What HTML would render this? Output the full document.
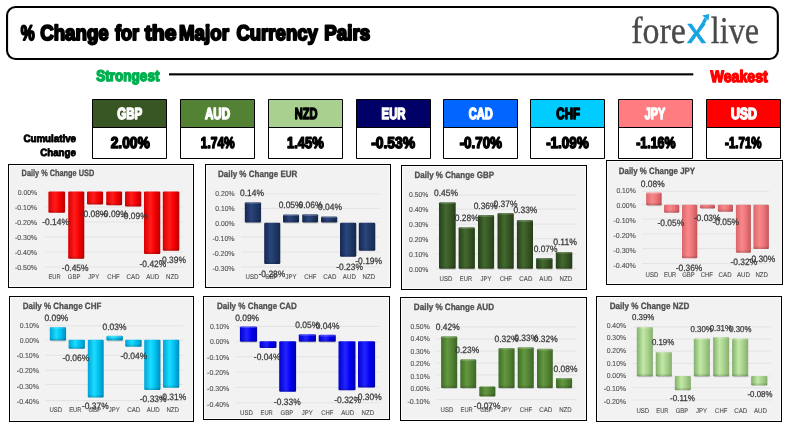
<!DOCTYPE html>
<html lang="en">
<head>
<meta charset="utf-8">
<title>% Change for the Major Currency Pairs</title>
<style>
html,body{margin:0;padding:0;background:#ffffff;}
body{width:787px;height:431px;overflow:hidden;}
svg{display:block;font-family:"Liberation Sans", "DejaVu Sans", sans-serif;}
svg text{white-space:pre;text-rendering:geometricPrecision;}
svg .sf{font-family:"Liberation Serif", "DejaVu Serif", serif;}
svg .lx{font-family:"Liberation Sans", "DejaVu Sans", sans-serif;}
</style>
</head>
<body>
<svg width="787" height="431" viewBox="0 0 787 431" role="img" aria-label="% Change for the Major Currency Pairs">
<defs>
<linearGradient id="shade" x1="0" y1="0" x2="0" y2="1"><stop offset="0" stop-color="#000000" stop-opacity="0"/><stop offset="1" stop-color="#000000" stop-opacity="0.2"/></linearGradient>
<linearGradient id="gred" x1="0" y1="0" x2="1" y2="0"><stop offset="0" stop-color="#d80000"/><stop offset="0.4" stop-color="#ff1c1c"/><stop offset="0.68" stop-color="#f40000"/><stop offset="1" stop-color="#b80000"/></linearGradient>
<linearGradient id="gnavy" x1="0" y1="0" x2="1" y2="0"><stop offset="0" stop-color="#14274e"/><stop offset="0.4" stop-color="#2b457f"/><stop offset="0.68" stop-color="#1f3864"/><stop offset="1" stop-color="#142850"/></linearGradient>
<linearGradient id="gdgreen" x1="0" y1="0" x2="1" y2="0"><stop offset="0" stop-color="#24401a"/><stop offset="0.4" stop-color="#44692f"/><stop offset="0.68" stop-color="#375623"/><stop offset="1" stop-color="#243d18"/></linearGradient>
<linearGradient id="gpink" x1="0" y1="0" x2="1" y2="0"><stop offset="0" stop-color="#dc666a"/><stop offset="0.4" stop-color="#f8888c"/><stop offset="0.68" stop-color="#ec7478"/><stop offset="1" stop-color="#c4565a"/></linearGradient>
<linearGradient id="gcyan" x1="0" y1="0" x2="1" y2="0"><stop offset="0" stop-color="#00a2d8"/><stop offset="0.4" stop-color="#1cdcff"/><stop offset="0.68" stop-color="#00c0f0"/><stop offset="1" stop-color="#008cbc"/></linearGradient>
<linearGradient id="gblue" x1="0" y1="0" x2="1" y2="0"><stop offset="0" stop-color="#0000d0"/><stop offset="0.4" stop-color="#2424ff"/><stop offset="0.68" stop-color="#0000f4"/><stop offset="1" stop-color="#0000ac"/></linearGradient>
<linearGradient id="ggreen" x1="0" y1="0" x2="1" y2="0"><stop offset="0" stop-color="#3e6e28"/><stop offset="0.4" stop-color="#64983f"/><stop offset="0.68" stop-color="#548235"/><stop offset="1" stop-color="#3a6624"/></linearGradient>
<linearGradient id="glgreen" x1="0" y1="0" x2="1" y2="0"><stop offset="0" stop-color="#84ae6c"/><stop offset="0.4" stop-color="#c0eaa4"/><stop offset="0.68" stop-color="#a9d08e"/><stop offset="1" stop-color="#86ae6e"/></linearGradient>
</defs>
<rect x="0" y="0" width="787" height="431" fill="#ffffff"/>
<rect x="7.05" y="7" width="770.8" height="52" rx="8.5" ry="8.5" fill="#ffffff" stroke="#000000" stroke-width="2.1"/>
<text font-size="21.01" fill="#000000" font-weight="bold" text-rendering="geometricPrecision" stroke="#000000" stroke-width="2.0" stroke-linejoin="round"><tspan x="20.72" y="40.00" textLength="13.89" lengthAdjust="spacingAndGlyphs">%</tspan> <tspan x="40.17" y="40.00" textLength="68.60" lengthAdjust="spacingAndGlyphs">Change</tspan> <tspan x="114.95" y="40.00" textLength="24.08" lengthAdjust="spacingAndGlyphs">for</tspan> <tspan x="144.85" y="40.00" textLength="31.66" lengthAdjust="spacingAndGlyphs">the</tspan> <tspan x="179.05" y="40.00" textLength="49.88" lengthAdjust="spacingAndGlyphs">Major</tspan> <tspan x="236.39" y="40.00" textLength="81.50" lengthAdjust="spacingAndGlyphs">Currency</tspan> <tspan x="324.31" y="40.00" textLength="45.81" lengthAdjust="spacingAndGlyphs">Pairs</tspan></text>
<text class="sf" font-size="37.8" fill="#4a4a4a" stroke="#4a4a4a" stroke-width="0.35" stroke-linejoin="round"><tspan x="631.30" y="42.60" textLength="54.60" lengthAdjust="spacingAndGlyphs">fore</tspan><tspan class="lx" x="687.10" y="43.00" font-size="35.97" fill="#18a4e0" stroke="#18a4e0" stroke-width="0.7" textLength="18.99" lengthAdjust="spacingAndGlyphs">x</tspan><tspan x="710.80" y="42.60" textLength="48.30" lengthAdjust="spacingAndGlyphs">live</tspan></text>
<g fill="#18a4e0"><path d="M700.6 25.0 L703.4 26.8 L707.0 19.8 L704.3 17.6 Z"/><path d="M709.2 13.9 L702.2 15.4 L708.5 20.4 Z"/></g>
<text x="96.26" y="81.00" font-size="15.48" fill="#00b050" font-weight="bold" textLength="63.17" lengthAdjust="spacingAndGlyphs" stroke="#00b050" stroke-width="1.5" stroke-linejoin="round" text-rendering="geometricPrecision">Strongest</text>
<text x="710.51" y="82.00" font-size="16.44" fill="#ff0000" font-weight="bold" textLength="57.28" lengthAdjust="spacingAndGlyphs" stroke="#ff0000" stroke-width="1.5" stroke-linejoin="round" text-rendering="geometricPrecision">Weakest</text>
<rect x="169" y="73.3" width="524.3" height="2.1" fill="#000000"/>
<text font-size="10.51" fill="#000000" font-weight="bold" text-rendering="geometricPrecision" stroke="#000000" stroke-width="0.9" stroke-linejoin="round"><tspan x="23.44" y="142.00" textLength="52.61" lengthAdjust="spacingAndGlyphs">Cumulative</tspan> <tspan x="40.24" y="156.00" textLength="35.57" lengthAdjust="spacingAndGlyphs">Change</tspan></text>
<rect x="92.5" y="99.5" width="74" height="28" fill="#375623"/>
<rect x="92.5" y="127.5" width="74" height="31" fill="#ffffff"/>
<path d="M92.5 99.5 h74 v59 h-74 Z M92.5 127.5 h74" fill="none" stroke="#000000" stroke-width="1"/>
<text x="117.28" y="119.00" font-size="15.96" fill="#ffffff" font-weight="bold" textLength="25.03" lengthAdjust="spacingAndGlyphs" stroke="#ffffff" stroke-width="1.5" stroke-linejoin="round" text-rendering="geometricPrecision">GBP</text>
<text x="110.66" y="148.00" font-size="15.67" fill="#000000" font-weight="bold" textLength="39.19" lengthAdjust="spacingAndGlyphs" stroke="#000000" stroke-width="1.5" stroke-linejoin="round" text-rendering="geometricPrecision">2.00%</text>
<rect x="180.5" y="99.5" width="74" height="28" fill="#548235"/>
<rect x="180.5" y="127.5" width="74" height="31" fill="#ffffff"/>
<path d="M180.5 99.5 h74 v59 h-74 Z M180.5 127.5 h74" fill="none" stroke="#000000" stroke-width="1"/>
<text x="204.90" y="119.00" font-size="15.96" fill="#ffffff" font-weight="bold" textLength="25.11" lengthAdjust="spacingAndGlyphs" stroke="#ffffff" stroke-width="1.5" stroke-linejoin="round" text-rendering="geometricPrecision">AUD</text>
<text x="200.83" y="148.00" font-size="15.67" fill="#000000" font-weight="bold" textLength="33.85" lengthAdjust="spacingAndGlyphs" stroke="#000000" stroke-width="1.5" stroke-linejoin="round" text-rendering="geometricPrecision">1.74%</text>
<rect x="268.5" y="99.5" width="74" height="28" fill="#a9d08e"/>
<rect x="268.5" y="127.5" width="74" height="31" fill="#ffffff"/>
<path d="M268.5 99.5 h74 v59 h-74 Z M268.5 127.5 h74" fill="none" stroke="#000000" stroke-width="1"/>
<text x="294.68" y="119.00" font-size="15.96" fill="#000000" font-weight="bold" textLength="22.93" lengthAdjust="spacingAndGlyphs" stroke="#000000" stroke-width="1.5" stroke-linejoin="round" text-rendering="geometricPrecision">NZD</text>
<text x="287.03" y="148.00" font-size="15.67" fill="#000000" font-weight="bold" textLength="36.73" lengthAdjust="spacingAndGlyphs" stroke="#000000" stroke-width="1.5" stroke-linejoin="round" text-rendering="geometricPrecision">1.45%</text>
<rect x="356.5" y="99.5" width="74" height="28" fill="#000066"/>
<rect x="356.5" y="127.5" width="74" height="31" fill="#ffffff"/>
<path d="M356.5 99.5 h74 v59 h-74 Z M356.5 127.5 h74" fill="none" stroke="#000000" stroke-width="1"/>
<text x="381.55" y="119.00" font-size="15.96" fill="#ffffff" font-weight="bold" textLength="24.02" lengthAdjust="spacingAndGlyphs" stroke="#ffffff" stroke-width="1.5" stroke-linejoin="round" text-rendering="geometricPrecision">EUR</text>
<text x="371.19" y="148.00" font-size="15.67" fill="#000000" font-weight="bold" textLength="43.93" lengthAdjust="spacingAndGlyphs" stroke="#000000" stroke-width="1.5" stroke-linejoin="round" text-rendering="geometricPrecision">-0.53%</text>
<rect x="443.5" y="99.5" width="74" height="28" fill="#0066ff"/>
<rect x="443.5" y="127.5" width="74" height="31" fill="#ffffff"/>
<path d="M443.5 99.5 h74 v59 h-74 Z M443.5 127.5 h74" fill="none" stroke="#000000" stroke-width="1"/>
<text x="468.79" y="119.00" font-size="15.96" fill="#ffffff" font-weight="bold" textLength="24.12" lengthAdjust="spacingAndGlyphs" stroke="#ffffff" stroke-width="1.5" stroke-linejoin="round" text-rendering="geometricPrecision">CAD</text>
<text x="459.63" y="148.00" font-size="15.67" fill="#000000" font-weight="bold" textLength="42.39" lengthAdjust="spacingAndGlyphs" stroke="#000000" stroke-width="1.5" stroke-linejoin="round" text-rendering="geometricPrecision">-0.70%</text>
<rect x="530.5" y="99.5" width="74" height="28" fill="#00ccff"/>
<rect x="530.5" y="127.5" width="74" height="31" fill="#ffffff"/>
<path d="M530.5 99.5 h74 v59 h-74 Z M530.5 127.5 h74" fill="none" stroke="#000000" stroke-width="1"/>
<text x="556.29" y="119.00" font-size="15.96" fill="#000000" font-weight="bold" textLength="23.80" lengthAdjust="spacingAndGlyphs" stroke="#000000" stroke-width="1.5" stroke-linejoin="round" text-rendering="geometricPrecision">CHF</text>
<text x="546.14" y="148.00" font-size="15.67" fill="#000000" font-weight="bold" textLength="42.64" lengthAdjust="spacingAndGlyphs" stroke="#000000" stroke-width="1.5" stroke-linejoin="round" text-rendering="geometricPrecision">-1.09%</text>
<rect x="618.5" y="99.5" width="74" height="28" fill="#ff7c80"/>
<rect x="618.5" y="127.5" width="74" height="31" fill="#ffffff"/>
<path d="M618.5 99.5 h74 v59 h-74 Z M618.5 127.5 h74" fill="none" stroke="#000000" stroke-width="1"/>
<text x="644.72" y="119.00" font-size="15.96" fill="#ffffff" font-weight="bold" textLength="20.37" lengthAdjust="spacingAndGlyphs" stroke="#ffffff" stroke-width="1.5" stroke-linejoin="round" text-rendering="geometricPrecision">JPY</text>
<text x="636.20" y="148.00" font-size="15.67" fill="#000000" font-weight="bold" textLength="39.30" lengthAdjust="spacingAndGlyphs" stroke="#000000" stroke-width="1.5" stroke-linejoin="round" text-rendering="geometricPrecision">-1.16%</text>
<rect x="706.5" y="99.5" width="74" height="28" fill="#ff0000"/>
<rect x="706.5" y="127.5" width="74" height="31" fill="#ffffff"/>
<path d="M706.5 99.5 h74 v59 h-74 Z M706.5 127.5 h74" fill="none" stroke="#000000" stroke-width="1"/>
<text x="730.93" y="119.00" font-size="15.96" fill="#ffffff" font-weight="bold" textLength="26.12" lengthAdjust="spacingAndGlyphs" stroke="#ffffff" stroke-width="1.5" stroke-linejoin="round" text-rendering="geometricPrecision">USD</text>
<text x="725.06" y="148.00" font-size="15.67" fill="#000000" font-weight="bold" textLength="36.48" lengthAdjust="spacingAndGlyphs" stroke="#000000" stroke-width="1.5" stroke-linejoin="round" text-rendering="geometricPrecision">-1.71%</text>
<rect x="8.5" y="164.5" width="185.0" height="123.0" fill="#f2f2f2" stroke="#000000" stroke-width="1"/>
<rect x="9.5" y="165.5" width="183.0" height="121.0" fill="none" stroke="#fbfbfb" stroke-width="1"/>
<text x="21.60" y="176.30" font-size="9.2" fill="#505050" font-weight="bold" textLength="72.60" lengthAdjust="spacingAndGlyphs" stroke="#505050" stroke-width="0.3" stroke-linejoin="round">Daily % Change USD</text>
<rect x="45.5" y="191.50" width="137.5" height="1" fill="#e3e3e3"/>
<rect x="45.5" y="206.50" width="137.5" height="1" fill="#e3e3e3"/>
<rect x="45.5" y="221.50" width="137.5" height="1" fill="#e3e3e3"/>
<rect x="45.5" y="236.50" width="137.5" height="1" fill="#e3e3e3"/>
<rect x="45.5" y="251.50" width="137.5" height="1" fill="#e3e3e3"/>
<rect x="45.5" y="266.50" width="137.5" height="1" fill="#e3e3e3"/>
<text x="37.10" y="194.90" font-size="7.2" fill="#545454" text-anchor="end" textLength="19.30" lengthAdjust="spacingAndGlyphs" stroke="#545454" stroke-width="0.12" stroke-linejoin="round">0.00%</text>
<text x="37.10" y="209.84" font-size="7.2" fill="#545454" text-anchor="end" textLength="22.20" lengthAdjust="spacingAndGlyphs" stroke="#545454" stroke-width="0.12" stroke-linejoin="round">-0.10%</text>
<text x="37.10" y="224.78" font-size="7.2" fill="#545454" text-anchor="end" textLength="22.20" lengthAdjust="spacingAndGlyphs" stroke="#545454" stroke-width="0.12" stroke-linejoin="round">-0.20%</text>
<text x="37.10" y="239.72" font-size="7.2" fill="#545454" text-anchor="end" textLength="22.20" lengthAdjust="spacingAndGlyphs" stroke="#545454" stroke-width="0.12" stroke-linejoin="round">-0.30%</text>
<text x="37.10" y="254.66" font-size="7.2" fill="#545454" text-anchor="end" textLength="22.20" lengthAdjust="spacingAndGlyphs" stroke="#545454" stroke-width="0.12" stroke-linejoin="round">-0.40%</text>
<text x="37.10" y="269.60" font-size="7.2" fill="#545454" text-anchor="end" textLength="22.20" lengthAdjust="spacingAndGlyphs" stroke="#545454" stroke-width="0.12" stroke-linejoin="round">-0.50%</text>
<text x="54.50" y="279.20" font-size="6.8" fill="#505050" text-anchor="middle" textLength="12.20" lengthAdjust="spacingAndGlyphs" stroke="#505050" stroke-width="0.12" stroke-linejoin="round">EUR</text>
<text x="74.15" y="279.20" font-size="6.8" fill="#505050" text-anchor="middle" textLength="12.60" lengthAdjust="spacingAndGlyphs" stroke="#505050" stroke-width="0.12" stroke-linejoin="round">GBP</text>
<text x="93.80" y="279.20" font-size="6.8" fill="#505050" text-anchor="middle" textLength="11.00" lengthAdjust="spacingAndGlyphs" stroke="#505050" stroke-width="0.12" stroke-linejoin="round">JPY</text>
<text x="113.45" y="279.20" font-size="6.8" fill="#505050" text-anchor="middle" textLength="12.20" lengthAdjust="spacingAndGlyphs" stroke="#505050" stroke-width="0.12" stroke-linejoin="round">CHF</text>
<text x="133.10" y="279.20" font-size="6.8" fill="#505050" text-anchor="middle" textLength="13.00" lengthAdjust="spacingAndGlyphs" stroke="#505050" stroke-width="0.12" stroke-linejoin="round">CAD</text>
<text x="152.75" y="279.20" font-size="6.8" fill="#505050" text-anchor="middle" textLength="13.00" lengthAdjust="spacingAndGlyphs" stroke="#505050" stroke-width="0.12" stroke-linejoin="round">AUD</text>
<text x="172.40" y="279.20" font-size="6.8" fill="#505050" text-anchor="middle" textLength="12.60" lengthAdjust="spacingAndGlyphs" stroke="#505050" stroke-width="0.12" stroke-linejoin="round">NZD</text>
<rect x="48.40" y="191.50" width="16.70" height="21.30" rx="1.4" ry="1" fill="url(#gred)"/>
<rect x="48.40" y="209.80" width="16.70" height="3.00" rx="1.4" ry="1" fill="url(#shade)"/>
<rect x="68.20" y="191.50" width="16.10" height="67.30" rx="1.4" ry="1" fill="url(#gred)"/>
<rect x="68.20" y="255.80" width="16.10" height="3.00" rx="1.4" ry="1" fill="url(#shade)"/>
<rect x="87.00" y="191.50" width="16.10" height="13.00" rx="1.4" ry="1" fill="url(#gred)"/>
<rect x="87.00" y="201.50" width="16.10" height="3.00" rx="1.4" ry="1" fill="url(#shade)"/>
<rect x="106.20" y="191.50" width="15.90" height="13.80" rx="1.4" ry="1" fill="url(#gred)"/>
<rect x="106.20" y="202.30" width="15.90" height="3.00" rx="1.4" ry="1" fill="url(#shade)"/>
<rect x="125.00" y="191.50" width="16.30" height="14.90" rx="1.4" ry="1" fill="url(#gred)"/>
<rect x="125.00" y="203.40" width="16.30" height="3.00" rx="1.4" ry="1" fill="url(#shade)"/>
<rect x="144.00" y="191.50" width="16.30" height="62.50" rx="1.4" ry="1" fill="url(#gred)"/>
<rect x="144.00" y="251.00" width="16.30" height="3.00" rx="1.4" ry="1" fill="url(#shade)"/>
<rect x="162.80" y="191.50" width="16.50" height="59.30" rx="1.4" ry="1" fill="url(#gred)"/>
<rect x="162.80" y="247.80" width="16.50" height="3.00" rx="1.4" ry="1" fill="url(#shade)"/>
<text x="55.55" y="225.00" font-size="9.2" fill="#383838" text-anchor="middle" textLength="26.70" lengthAdjust="spacingAndGlyphs" stroke="#383838" stroke-width="0.25" stroke-linejoin="round">-0.14%</text>
<text x="75.20" y="271.00" font-size="9.2" fill="#383838" text-anchor="middle" textLength="26.70" lengthAdjust="spacingAndGlyphs" stroke="#383838" stroke-width="0.25" stroke-linejoin="round">-0.45%</text>
<text x="94.00" y="217.30" font-size="9.2" fill="#383838" text-anchor="middle" textLength="26.70" lengthAdjust="spacingAndGlyphs" stroke="#383838" stroke-width="0.25" stroke-linejoin="round">-0.08%</text>
<text x="114.40" y="217.30" font-size="9.2" fill="#383838" text-anchor="middle" textLength="26.70" lengthAdjust="spacingAndGlyphs" stroke="#383838" stroke-width="0.25" stroke-linejoin="round">-0.09%</text>
<text x="134.30" y="218.80" font-size="9.2" fill="#383838" text-anchor="middle" textLength="26.70" lengthAdjust="spacingAndGlyphs" stroke="#383838" stroke-width="0.25" stroke-linejoin="round">-0.09%</text>
<text x="152.90" y="266.80" font-size="9.2" fill="#383838" text-anchor="middle" textLength="26.70" lengthAdjust="spacingAndGlyphs" stroke="#383838" stroke-width="0.25" stroke-linejoin="round">-0.42%</text>
<text x="172.55" y="262.60" font-size="9.2" fill="#383838" text-anchor="middle" textLength="26.70" lengthAdjust="spacingAndGlyphs" stroke="#383838" stroke-width="0.25" stroke-linejoin="round">-0.39%</text>
<rect x="205.5" y="164.5" width="185.0" height="123.0" fill="#f2f2f2" stroke="#000000" stroke-width="1"/>
<rect x="206.5" y="165.5" width="183.0" height="121.0" fill="none" stroke="#fbfbfb" stroke-width="1"/>
<text x="217.90" y="176.80" font-size="9.2" fill="#505050" font-weight="bold" textLength="79.50" lengthAdjust="spacingAndGlyphs" stroke="#505050" stroke-width="0.3" stroke-linejoin="round">Daily % Change EUR</text>
<rect x="241.5" y="193.50" width="137.5" height="1" fill="#e3e3e3"/>
<rect x="241.5" y="207.90" width="137.5" height="1" fill="#e3e3e3"/>
<rect x="241.5" y="221.70" width="137.5" height="1" fill="#e3e3e3"/>
<rect x="241.5" y="236.40" width="137.5" height="1" fill="#e3e3e3"/>
<rect x="241.5" y="251.40" width="137.5" height="1" fill="#e3e3e3"/>
<rect x="241.5" y="266.40" width="137.5" height="1" fill="#e3e3e3"/>
<text x="234.60" y="195.80" font-size="7.2" fill="#545454" text-anchor="end" textLength="19.30" lengthAdjust="spacingAndGlyphs" stroke="#545454" stroke-width="0.12" stroke-linejoin="round">0.20%</text>
<text x="234.60" y="210.74" font-size="7.2" fill="#545454" text-anchor="end" textLength="19.30" lengthAdjust="spacingAndGlyphs" stroke="#545454" stroke-width="0.12" stroke-linejoin="round">0.10%</text>
<text x="234.60" y="225.68" font-size="7.2" fill="#545454" text-anchor="end" textLength="19.30" lengthAdjust="spacingAndGlyphs" stroke="#545454" stroke-width="0.12" stroke-linejoin="round">0.00%</text>
<text x="234.60" y="240.62" font-size="7.2" fill="#545454" text-anchor="end" textLength="22.20" lengthAdjust="spacingAndGlyphs" stroke="#545454" stroke-width="0.12" stroke-linejoin="round">-0.10%</text>
<text x="234.60" y="255.56" font-size="7.2" fill="#545454" text-anchor="end" textLength="22.20" lengthAdjust="spacingAndGlyphs" stroke="#545454" stroke-width="0.12" stroke-linejoin="round">-0.20%</text>
<text x="234.60" y="270.50" font-size="7.2" fill="#545454" text-anchor="end" textLength="22.20" lengthAdjust="spacingAndGlyphs" stroke="#545454" stroke-width="0.12" stroke-linejoin="round">-0.30%</text>
<text x="252.00" y="279.20" font-size="6.8" fill="#505050" text-anchor="middle" textLength="12.80" lengthAdjust="spacingAndGlyphs" stroke="#505050" stroke-width="0.12" stroke-linejoin="round">USD</text>
<text x="271.47" y="279.20" font-size="6.8" fill="#505050" text-anchor="middle" textLength="12.60" lengthAdjust="spacingAndGlyphs" stroke="#505050" stroke-width="0.12" stroke-linejoin="round">GBP</text>
<text x="290.93" y="279.20" font-size="6.8" fill="#505050" text-anchor="middle" textLength="11.00" lengthAdjust="spacingAndGlyphs" stroke="#505050" stroke-width="0.12" stroke-linejoin="round">JPY</text>
<text x="310.40" y="279.20" font-size="6.8" fill="#505050" text-anchor="middle" textLength="12.20" lengthAdjust="spacingAndGlyphs" stroke="#505050" stroke-width="0.12" stroke-linejoin="round">CHF</text>
<text x="329.87" y="279.20" font-size="6.8" fill="#505050" text-anchor="middle" textLength="13.00" lengthAdjust="spacingAndGlyphs" stroke="#505050" stroke-width="0.12" stroke-linejoin="round">CAD</text>
<text x="349.33" y="279.20" font-size="6.8" fill="#505050" text-anchor="middle" textLength="13.00" lengthAdjust="spacingAndGlyphs" stroke="#505050" stroke-width="0.12" stroke-linejoin="round">AUD</text>
<text x="368.80" y="279.20" font-size="6.8" fill="#505050" text-anchor="middle" textLength="12.60" lengthAdjust="spacingAndGlyphs" stroke="#505050" stroke-width="0.12" stroke-linejoin="round">NZD</text>
<rect x="244.80" y="202.20" width="16.30" height="20.30" rx="1.4" ry="1" fill="url(#gnavy)"/>
<rect x="244.80" y="219.50" width="16.30" height="3.00" rx="1.4" ry="1" fill="url(#shade)"/>
<rect x="245.10" y="202.20" width="15.70" height="1.6" rx="1.4" ry="0.8" fill="#ffffff" fill-opacity="0.22"/>
<rect x="245.40" y="222.30" width="16.10" height="1.2" rx="1.4" ry="0.6" fill="#808080" fill-opacity="0.35"/>
<rect x="264.20" y="222.70" width="16.10" height="41.30" rx="1.4" ry="1" fill="url(#gnavy)"/>
<rect x="264.20" y="261.00" width="16.10" height="3.00" rx="1.4" ry="1" fill="url(#shade)"/>
<rect x="283.00" y="214.50" width="16.10" height="8.00" rx="1.4" ry="1" fill="url(#gnavy)"/>
<rect x="283.00" y="219.50" width="16.10" height="3.00" rx="1.4" ry="1" fill="url(#shade)"/>
<rect x="283.30" y="214.50" width="15.50" height="1.6" rx="1.4" ry="0.8" fill="#ffffff" fill-opacity="0.22"/>
<rect x="283.60" y="222.30" width="15.90" height="1.2" rx="1.4" ry="0.6" fill="#808080" fill-opacity="0.35"/>
<rect x="302.20" y="214.30" width="15.90" height="8.20" rx="1.4" ry="1" fill="url(#gnavy)"/>
<rect x="302.20" y="219.50" width="15.90" height="3.00" rx="1.4" ry="1" fill="url(#shade)"/>
<rect x="302.50" y="214.30" width="15.30" height="1.6" rx="1.4" ry="0.8" fill="#ffffff" fill-opacity="0.22"/>
<rect x="302.80" y="222.30" width="15.70" height="1.2" rx="1.4" ry="0.6" fill="#808080" fill-opacity="0.35"/>
<rect x="321.00" y="216.40" width="16.30" height="6.10" rx="1.4" ry="1" fill="url(#gnavy)"/>
<rect x="321.00" y="219.50" width="16.30" height="3.00" rx="1.4" ry="1" fill="url(#shade)"/>
<rect x="321.30" y="216.40" width="15.70" height="1.6" rx="1.4" ry="0.8" fill="#ffffff" fill-opacity="0.22"/>
<rect x="321.60" y="222.30" width="16.10" height="1.2" rx="1.4" ry="0.6" fill="#808080" fill-opacity="0.35"/>
<rect x="340.00" y="222.70" width="16.30" height="34.00" rx="1.4" ry="1" fill="url(#gnavy)"/>
<rect x="340.00" y="253.70" width="16.30" height="3.00" rx="1.4" ry="1" fill="url(#shade)"/>
<rect x="358.80" y="222.70" width="16.50" height="28.10" rx="1.4" ry="1" fill="url(#gnavy)"/>
<rect x="358.80" y="247.80" width="16.50" height="3.00" rx="1.4" ry="1" fill="url(#shade)"/>
<text x="252.00" y="196.20" font-size="9.2" fill="#383838" text-anchor="middle" textLength="23.90" lengthAdjust="spacingAndGlyphs" stroke="#383838" stroke-width="0.25" stroke-linejoin="round">0.14%</text>
<text x="271.90" y="276.80" font-size="9.2" fill="#383838" text-anchor="middle" textLength="26.70" lengthAdjust="spacingAndGlyphs" stroke="#383838" stroke-width="0.25" stroke-linejoin="round">-0.28%</text>
<text x="290.60" y="207.90" font-size="9.2" fill="#383838" text-anchor="middle" textLength="23.90" lengthAdjust="spacingAndGlyphs" stroke="#383838" stroke-width="0.25" stroke-linejoin="round">0.05%</text>
<text x="310.50" y="207.90" font-size="9.2" fill="#383838" text-anchor="middle" textLength="23.90" lengthAdjust="spacingAndGlyphs" stroke="#383838" stroke-width="0.25" stroke-linejoin="round">0.06%</text>
<text x="330.00" y="210.00" font-size="9.2" fill="#383838" text-anchor="middle" textLength="23.90" lengthAdjust="spacingAndGlyphs" stroke="#383838" stroke-width="0.25" stroke-linejoin="round">0.04%</text>
<text x="349.55" y="269.90" font-size="9.2" fill="#383838" text-anchor="middle" textLength="26.70" lengthAdjust="spacingAndGlyphs" stroke="#383838" stroke-width="0.25" stroke-linejoin="round">-0.23%</text>
<text x="368.65" y="263.70" font-size="9.2" fill="#383838" text-anchor="middle" textLength="26.70" lengthAdjust="spacingAndGlyphs" stroke="#383838" stroke-width="0.25" stroke-linejoin="round">-0.19%</text>
<rect x="401.5" y="165.5" width="185.0" height="124.0" fill="#f2f2f2" stroke="#000000" stroke-width="1"/>
<rect x="402.5" y="166.5" width="183.0" height="122.0" fill="none" stroke="#fbfbfb" stroke-width="1"/>
<text x="414.50" y="178.10" font-size="9.2" fill="#505050" font-weight="bold" textLength="79.50" lengthAdjust="spacingAndGlyphs" stroke="#505050" stroke-width="0.3" stroke-linejoin="round">Daily % Change GBP</text>
<rect x="436.0" y="194.40" width="141.0" height="1" fill="#e3e3e3"/>
<rect x="436.0" y="208.60" width="141.0" height="1" fill="#e3e3e3"/>
<rect x="436.0" y="223.60" width="141.0" height="1" fill="#e3e3e3"/>
<rect x="436.0" y="238.20" width="141.0" height="1" fill="#e3e3e3"/>
<rect x="436.0" y="253.50" width="141.0" height="1" fill="#e3e3e3"/>
<rect x="436.0" y="268.30" width="141.0" height="1" fill="#e3e3e3"/>
<text x="428.40" y="197.10" font-size="7.2" fill="#545454" text-anchor="end" textLength="19.30" lengthAdjust="spacingAndGlyphs" stroke="#545454" stroke-width="0.12" stroke-linejoin="round">0.50%</text>
<text x="428.40" y="212.04" font-size="7.2" fill="#545454" text-anchor="end" textLength="19.30" lengthAdjust="spacingAndGlyphs" stroke="#545454" stroke-width="0.12" stroke-linejoin="round">0.40%</text>
<text x="428.40" y="226.98" font-size="7.2" fill="#545454" text-anchor="end" textLength="19.30" lengthAdjust="spacingAndGlyphs" stroke="#545454" stroke-width="0.12" stroke-linejoin="round">0.30%</text>
<text x="428.40" y="241.92" font-size="7.2" fill="#545454" text-anchor="end" textLength="19.30" lengthAdjust="spacingAndGlyphs" stroke="#545454" stroke-width="0.12" stroke-linejoin="round">0.20%</text>
<text x="428.40" y="256.86" font-size="7.2" fill="#545454" text-anchor="end" textLength="19.30" lengthAdjust="spacingAndGlyphs" stroke="#545454" stroke-width="0.12" stroke-linejoin="round">0.10%</text>
<text x="428.40" y="271.80" font-size="7.2" fill="#545454" text-anchor="end" textLength="19.30" lengthAdjust="spacingAndGlyphs" stroke="#545454" stroke-width="0.12" stroke-linejoin="round">0.00%</text>
<text x="446.00" y="281.10" font-size="6.8" fill="#505050" text-anchor="middle" textLength="12.80" lengthAdjust="spacingAndGlyphs" stroke="#505050" stroke-width="0.12" stroke-linejoin="round">USD</text>
<text x="465.97" y="281.10" font-size="6.8" fill="#505050" text-anchor="middle" textLength="12.20" lengthAdjust="spacingAndGlyphs" stroke="#505050" stroke-width="0.12" stroke-linejoin="round">EUR</text>
<text x="485.93" y="281.10" font-size="6.8" fill="#505050" text-anchor="middle" textLength="11.00" lengthAdjust="spacingAndGlyphs" stroke="#505050" stroke-width="0.12" stroke-linejoin="round">JPY</text>
<text x="505.90" y="281.10" font-size="6.8" fill="#505050" text-anchor="middle" textLength="12.20" lengthAdjust="spacingAndGlyphs" stroke="#505050" stroke-width="0.12" stroke-linejoin="round">CHF</text>
<text x="525.87" y="281.10" font-size="6.8" fill="#505050" text-anchor="middle" textLength="13.00" lengthAdjust="spacingAndGlyphs" stroke="#505050" stroke-width="0.12" stroke-linejoin="round">CAD</text>
<text x="545.83" y="281.10" font-size="6.8" fill="#505050" text-anchor="middle" textLength="13.00" lengthAdjust="spacingAndGlyphs" stroke="#505050" stroke-width="0.12" stroke-linejoin="round">AUD</text>
<text x="565.80" y="281.10" font-size="6.8" fill="#505050" text-anchor="middle" textLength="12.60" lengthAdjust="spacingAndGlyphs" stroke="#505050" stroke-width="0.12" stroke-linejoin="round">NZD</text>
<rect x="439.00" y="202.20" width="16.70" height="66.60" rx="1.4" ry="1" fill="url(#gdgreen)"/>
<rect x="439.00" y="265.80" width="16.70" height="3.00" rx="1.4" ry="1" fill="url(#shade)"/>
<rect x="439.30" y="202.20" width="16.10" height="1.6" rx="1.4" ry="0.8" fill="#ffffff" fill-opacity="0.22"/>
<rect x="439.60" y="268.60" width="16.50" height="1.2" rx="1.4" ry="0.6" fill="#808080" fill-opacity="0.35"/>
<rect x="458.60" y="227.20" width="16.30" height="41.60" rx="1.4" ry="1" fill="url(#gdgreen)"/>
<rect x="458.60" y="265.80" width="16.30" height="3.00" rx="1.4" ry="1" fill="url(#shade)"/>
<rect x="458.90" y="227.20" width="15.70" height="1.6" rx="1.4" ry="0.8" fill="#ffffff" fill-opacity="0.22"/>
<rect x="459.20" y="268.60" width="16.10" height="1.2" rx="1.4" ry="0.6" fill="#808080" fill-opacity="0.35"/>
<rect x="478.00" y="215.10" width="16.10" height="53.70" rx="1.4" ry="1" fill="url(#gdgreen)"/>
<rect x="478.00" y="265.80" width="16.10" height="3.00" rx="1.4" ry="1" fill="url(#shade)"/>
<rect x="478.30" y="215.10" width="15.50" height="1.6" rx="1.4" ry="0.8" fill="#ffffff" fill-opacity="0.22"/>
<rect x="478.60" y="268.60" width="15.90" height="1.2" rx="1.4" ry="0.6" fill="#808080" fill-opacity="0.35"/>
<rect x="497.50" y="213.00" width="16.30" height="55.80" rx="1.4" ry="1" fill="url(#gdgreen)"/>
<rect x="497.50" y="265.80" width="16.30" height="3.00" rx="1.4" ry="1" fill="url(#shade)"/>
<rect x="497.80" y="213.00" width="15.70" height="1.6" rx="1.4" ry="0.8" fill="#ffffff" fill-opacity="0.22"/>
<rect x="498.10" y="268.60" width="16.10" height="1.2" rx="1.4" ry="0.6" fill="#808080" fill-opacity="0.35"/>
<rect x="516.90" y="220.10" width="16.10" height="48.70" rx="1.4" ry="1" fill="url(#gdgreen)"/>
<rect x="516.90" y="265.80" width="16.10" height="3.00" rx="1.4" ry="1" fill="url(#shade)"/>
<rect x="517.20" y="220.10" width="15.50" height="1.6" rx="1.4" ry="0.8" fill="#ffffff" fill-opacity="0.22"/>
<rect x="517.50" y="268.60" width="15.90" height="1.2" rx="1.4" ry="0.6" fill="#808080" fill-opacity="0.35"/>
<rect x="536.10" y="258.00" width="16.50" height="10.80" rx="1.4" ry="1" fill="url(#gdgreen)"/>
<rect x="536.10" y="265.80" width="16.50" height="3.00" rx="1.4" ry="1" fill="url(#shade)"/>
<rect x="536.40" y="258.00" width="15.90" height="1.6" rx="1.4" ry="0.8" fill="#ffffff" fill-opacity="0.22"/>
<rect x="536.70" y="268.60" width="16.30" height="1.2" rx="1.4" ry="0.6" fill="#808080" fill-opacity="0.35"/>
<rect x="555.80" y="251.90" width="16.50" height="16.90" rx="1.4" ry="1" fill="url(#gdgreen)"/>
<rect x="555.80" y="265.80" width="16.50" height="3.00" rx="1.4" ry="1" fill="url(#shade)"/>
<rect x="556.10" y="251.90" width="15.90" height="1.6" rx="1.4" ry="0.8" fill="#ffffff" fill-opacity="0.22"/>
<rect x="556.40" y="268.60" width="16.30" height="1.2" rx="1.4" ry="0.6" fill="#808080" fill-opacity="0.35"/>
<text x="446.00" y="196.20" font-size="9.2" fill="#383838" text-anchor="middle" textLength="23.90" lengthAdjust="spacingAndGlyphs" stroke="#383838" stroke-width="0.25" stroke-linejoin="round">0.45%</text>
<text x="466.80" y="221.30" font-size="9.2" fill="#383838" text-anchor="middle" textLength="23.90" lengthAdjust="spacingAndGlyphs" stroke="#383838" stroke-width="0.25" stroke-linejoin="round">0.28%</text>
<text x="485.60" y="209.40" font-size="9.2" fill="#383838" text-anchor="middle" textLength="23.90" lengthAdjust="spacingAndGlyphs" stroke="#383838" stroke-width="0.25" stroke-linejoin="round">0.36%</text>
<text x="505.50" y="206.90" font-size="9.2" fill="#383838" text-anchor="middle" textLength="23.90" lengthAdjust="spacingAndGlyphs" stroke="#383838" stroke-width="0.25" stroke-linejoin="round">0.37%</text>
<text x="525.40" y="213.10" font-size="9.2" fill="#383838" text-anchor="middle" textLength="23.90" lengthAdjust="spacingAndGlyphs" stroke="#383838" stroke-width="0.25" stroke-linejoin="round">0.33%</text>
<text x="545.60" y="252.20" font-size="9.2" fill="#383838" text-anchor="middle" textLength="23.90" lengthAdjust="spacingAndGlyphs" stroke="#383838" stroke-width="0.25" stroke-linejoin="round">0.07%</text>
<text x="565.10" y="244.90" font-size="9.2" fill="#383838" text-anchor="middle" textLength="23.90" lengthAdjust="spacingAndGlyphs" stroke="#383838" stroke-width="0.25" stroke-linejoin="round">0.11%</text>
<rect x="606.5" y="160.5" width="176.0" height="124.0" fill="#f2f2f2" stroke="#000000" stroke-width="1"/>
<rect x="607.5" y="161.5" width="174.0" height="122.0" fill="none" stroke="#fbfbfb" stroke-width="1"/>
<text x="618.80" y="173.60" font-size="9.2" fill="#505050" font-weight="bold" textLength="76.30" lengthAdjust="spacingAndGlyphs" stroke="#505050" stroke-width="0.3" stroke-linejoin="round">Daily % Change JPY</text>
<rect x="642.0" y="190.80" width="127.0" height="1" fill="#e3e3e3"/>
<rect x="642.0" y="204.10" width="127.0" height="1" fill="#e3e3e3"/>
<rect x="642.0" y="218.50" width="127.0" height="1" fill="#e3e3e3"/>
<rect x="642.0" y="233.50" width="127.0" height="1" fill="#e3e3e3"/>
<rect x="642.0" y="248.10" width="127.0" height="1" fill="#e3e3e3"/>
<rect x="642.0" y="263.10" width="127.0" height="1" fill="#e3e3e3"/>
<text x="635.70" y="192.60" font-size="7.2" fill="#545454" text-anchor="end" textLength="19.30" lengthAdjust="spacingAndGlyphs" stroke="#545454" stroke-width="0.12" stroke-linejoin="round">0.10%</text>
<text x="635.70" y="207.66" font-size="7.2" fill="#545454" text-anchor="end" textLength="19.30" lengthAdjust="spacingAndGlyphs" stroke="#545454" stroke-width="0.12" stroke-linejoin="round">0.00%</text>
<text x="635.70" y="222.72" font-size="7.2" fill="#545454" text-anchor="end" textLength="22.20" lengthAdjust="spacingAndGlyphs" stroke="#545454" stroke-width="0.12" stroke-linejoin="round">-0.10%</text>
<text x="635.70" y="237.78" font-size="7.2" fill="#545454" text-anchor="end" textLength="22.20" lengthAdjust="spacingAndGlyphs" stroke="#545454" stroke-width="0.12" stroke-linejoin="round">-0.20%</text>
<text x="635.70" y="252.84" font-size="7.2" fill="#545454" text-anchor="end" textLength="22.20" lengthAdjust="spacingAndGlyphs" stroke="#545454" stroke-width="0.12" stroke-linejoin="round">-0.30%</text>
<text x="635.70" y="267.90" font-size="7.2" fill="#545454" text-anchor="end" textLength="22.20" lengthAdjust="spacingAndGlyphs" stroke="#545454" stroke-width="0.12" stroke-linejoin="round">-0.40%</text>
<text x="651.90" y="276.60" font-size="6.8" fill="#505050" text-anchor="middle" textLength="12.80" lengthAdjust="spacingAndGlyphs" stroke="#505050" stroke-width="0.12" stroke-linejoin="round">USD</text>
<text x="670.20" y="276.60" font-size="6.8" fill="#505050" text-anchor="middle" textLength="12.20" lengthAdjust="spacingAndGlyphs" stroke="#505050" stroke-width="0.12" stroke-linejoin="round">EUR</text>
<text x="688.50" y="276.60" font-size="6.8" fill="#505050" text-anchor="middle" textLength="12.60" lengthAdjust="spacingAndGlyphs" stroke="#505050" stroke-width="0.12" stroke-linejoin="round">GBP</text>
<text x="706.80" y="276.60" font-size="6.8" fill="#505050" text-anchor="middle" textLength="12.20" lengthAdjust="spacingAndGlyphs" stroke="#505050" stroke-width="0.12" stroke-linejoin="round">CHF</text>
<text x="725.10" y="276.60" font-size="6.8" fill="#505050" text-anchor="middle" textLength="13.00" lengthAdjust="spacingAndGlyphs" stroke="#505050" stroke-width="0.12" stroke-linejoin="round">CAD</text>
<text x="743.40" y="276.60" font-size="6.8" fill="#505050" text-anchor="middle" textLength="13.00" lengthAdjust="spacingAndGlyphs" stroke="#505050" stroke-width="0.12" stroke-linejoin="round">AUD</text>
<text x="761.70" y="276.60" font-size="6.8" fill="#505050" text-anchor="middle" textLength="12.60" lengthAdjust="spacingAndGlyphs" stroke="#505050" stroke-width="0.12" stroke-linejoin="round">NZD</text>
<rect x="646.10" y="192.50" width="15.60" height="12.70" rx="1.4" ry="1" fill="url(#gpink)"/>
<rect x="646.10" y="202.20" width="15.60" height="3.00" rx="1.4" ry="1" fill="url(#shade)"/>
<rect x="646.40" y="192.50" width="15.00" height="1.6" rx="1.4" ry="0.8" fill="#ffffff" fill-opacity="0.22"/>
<rect x="646.70" y="205.00" width="15.40" height="1.2" rx="1.4" ry="0.6" fill="#808080" fill-opacity="0.35"/>
<rect x="664.00" y="204.80" width="15.30" height="8.00" rx="1.4" ry="1" fill="url(#gpink)"/>
<rect x="664.00" y="209.80" width="15.30" height="3.00" rx="1.4" ry="1" fill="url(#shade)"/>
<rect x="682.00" y="204.80" width="15.30" height="53.50" rx="1.4" ry="1" fill="url(#gpink)"/>
<rect x="682.00" y="255.30" width="15.30" height="3.00" rx="1.4" ry="1" fill="url(#shade)"/>
<rect x="700.00" y="204.80" width="15.00" height="3.80" rx="1.4" ry="1" fill="url(#gpink)"/>
<rect x="700.00" y="205.60" width="15.00" height="3.00" rx="1.4" ry="1" fill="url(#shade)"/>
<rect x="717.90" y="204.80" width="15.10" height="7.00" rx="1.4" ry="1" fill="url(#gpink)"/>
<rect x="717.90" y="208.80" width="15.10" height="3.00" rx="1.4" ry="1" fill="url(#shade)"/>
<rect x="735.90" y="204.80" width="15.00" height="47.90" rx="1.4" ry="1" fill="url(#gpink)"/>
<rect x="735.90" y="249.70" width="15.00" height="3.00" rx="1.4" ry="1" fill="url(#shade)"/>
<rect x="753.40" y="204.80" width="15.50" height="44.10" rx="1.4" ry="1" fill="url(#gpink)"/>
<rect x="753.40" y="245.90" width="15.50" height="3.00" rx="1.4" ry="1" fill="url(#shade)"/>
<text x="652.75" y="187.30" font-size="9.2" fill="#383838" text-anchor="middle" textLength="23.90" lengthAdjust="spacingAndGlyphs" stroke="#383838" stroke-width="0.25" stroke-linejoin="round">0.08%</text>
<text x="670.85" y="226.30" font-size="9.2" fill="#383838" text-anchor="middle" textLength="26.70" lengthAdjust="spacingAndGlyphs" stroke="#383838" stroke-width="0.25" stroke-linejoin="round">-0.05%</text>
<text x="689.00" y="271.10" font-size="9.2" fill="#383838" text-anchor="middle" textLength="26.70" lengthAdjust="spacingAndGlyphs" stroke="#383838" stroke-width="0.25" stroke-linejoin="round">-0.36%</text>
<text x="707.15" y="221.30" font-size="9.2" fill="#383838" text-anchor="middle" textLength="26.70" lengthAdjust="spacingAndGlyphs" stroke="#383838" stroke-width="0.25" stroke-linejoin="round">-0.03%</text>
<text x="725.75" y="224.80" font-size="9.2" fill="#383838" text-anchor="middle" textLength="26.70" lengthAdjust="spacingAndGlyphs" stroke="#383838" stroke-width="0.25" stroke-linejoin="round">-0.05%</text>
<text x="743.85" y="265.30" font-size="9.2" fill="#383838" text-anchor="middle" textLength="26.70" lengthAdjust="spacingAndGlyphs" stroke="#383838" stroke-width="0.25" stroke-linejoin="round">-0.32%</text>
<text x="761.95" y="262.30" font-size="9.2" fill="#383838" text-anchor="middle" textLength="26.70" lengthAdjust="spacingAndGlyphs" stroke="#383838" stroke-width="0.25" stroke-linejoin="round">-0.30%</text>
<rect x="9.5" y="296.5" width="184.0" height="125.0" fill="#f2f2f2" stroke="#000000" stroke-width="1"/>
<rect x="10.5" y="297.5" width="182.0" height="123.0" fill="none" stroke="#fbfbfb" stroke-width="1"/>
<text x="22.70" y="309.30" font-size="9.2" fill="#505050" font-weight="bold" textLength="78.60" lengthAdjust="spacingAndGlyphs" stroke="#505050" stroke-width="0.3" stroke-linejoin="round">Daily % Change CHF</text>
<rect x="45.5" y="325.30" width="137.5" height="1" fill="#e3e3e3"/>
<rect x="45.5" y="339.50" width="137.5" height="1" fill="#e3e3e3"/>
<rect x="45.5" y="354.80" width="137.5" height="1" fill="#e3e3e3"/>
<rect x="45.5" y="369.80" width="137.5" height="1" fill="#e3e3e3"/>
<rect x="45.5" y="384.00" width="137.5" height="1" fill="#e3e3e3"/>
<rect x="45.5" y="400.10" width="137.5" height="1" fill="#e3e3e3"/>
<text x="39.00" y="327.60" font-size="7.2" fill="#545454" text-anchor="end" textLength="19.30" lengthAdjust="spacingAndGlyphs" stroke="#545454" stroke-width="0.12" stroke-linejoin="round">0.10%</text>
<text x="39.00" y="342.86" font-size="7.2" fill="#545454" text-anchor="end" textLength="19.30" lengthAdjust="spacingAndGlyphs" stroke="#545454" stroke-width="0.12" stroke-linejoin="round">0.00%</text>
<text x="39.00" y="358.12" font-size="7.2" fill="#545454" text-anchor="end" textLength="22.20" lengthAdjust="spacingAndGlyphs" stroke="#545454" stroke-width="0.12" stroke-linejoin="round">-0.10%</text>
<text x="39.00" y="373.38" font-size="7.2" fill="#545454" text-anchor="end" textLength="22.20" lengthAdjust="spacingAndGlyphs" stroke="#545454" stroke-width="0.12" stroke-linejoin="round">-0.20%</text>
<text x="39.00" y="388.64" font-size="7.2" fill="#545454" text-anchor="end" textLength="22.20" lengthAdjust="spacingAndGlyphs" stroke="#545454" stroke-width="0.12" stroke-linejoin="round">-0.30%</text>
<text x="39.00" y="403.90" font-size="7.2" fill="#545454" text-anchor="end" textLength="22.20" lengthAdjust="spacingAndGlyphs" stroke="#545454" stroke-width="0.12" stroke-linejoin="round">-0.40%</text>
<text x="55.80" y="412.20" font-size="6.8" fill="#505050" text-anchor="middle" textLength="12.80" lengthAdjust="spacingAndGlyphs" stroke="#505050" stroke-width="0.12" stroke-linejoin="round">USD</text>
<text x="75.28" y="412.20" font-size="6.8" fill="#505050" text-anchor="middle" textLength="12.20" lengthAdjust="spacingAndGlyphs" stroke="#505050" stroke-width="0.12" stroke-linejoin="round">EUR</text>
<text x="94.77" y="412.20" font-size="6.8" fill="#505050" text-anchor="middle" textLength="12.60" lengthAdjust="spacingAndGlyphs" stroke="#505050" stroke-width="0.12" stroke-linejoin="round">GBP</text>
<text x="114.25" y="412.20" font-size="6.8" fill="#505050" text-anchor="middle" textLength="11.00" lengthAdjust="spacingAndGlyphs" stroke="#505050" stroke-width="0.12" stroke-linejoin="round">JPY</text>
<text x="133.73" y="412.20" font-size="6.8" fill="#505050" text-anchor="middle" textLength="13.00" lengthAdjust="spacingAndGlyphs" stroke="#505050" stroke-width="0.12" stroke-linejoin="round">CAD</text>
<text x="153.22" y="412.20" font-size="6.8" fill="#505050" text-anchor="middle" textLength="13.00" lengthAdjust="spacingAndGlyphs" stroke="#505050" stroke-width="0.12" stroke-linejoin="round">AUD</text>
<text x="172.70" y="412.20" font-size="6.8" fill="#505050" text-anchor="middle" textLength="12.60" lengthAdjust="spacingAndGlyphs" stroke="#505050" stroke-width="0.12" stroke-linejoin="round">NZD</text>
<rect x="49.80" y="326.90" width="16.30" height="13.60" rx="1.4" ry="1" fill="url(#gcyan)"/>
<rect x="49.80" y="337.50" width="16.30" height="3.00" rx="1.4" ry="1" fill="url(#shade)"/>
<rect x="50.10" y="326.90" width="15.70" height="1.6" rx="1.4" ry="0.8" fill="#ffffff" fill-opacity="0.22"/>
<rect x="50.40" y="340.30" width="16.10" height="1.2" rx="1.4" ry="0.6" fill="#808080" fill-opacity="0.35"/>
<rect x="68.60" y="339.80" width="16.30" height="9.00" rx="1.4" ry="1" fill="url(#gcyan)"/>
<rect x="68.60" y="345.80" width="16.30" height="3.00" rx="1.4" ry="1" fill="url(#shade)"/>
<rect x="87.80" y="339.80" width="15.90" height="57.70" rx="1.4" ry="1" fill="url(#gcyan)"/>
<rect x="87.80" y="394.50" width="15.90" height="3.00" rx="1.4" ry="1" fill="url(#shade)"/>
<rect x="106.40" y="335.80" width="16.50" height="4.70" rx="1.4" ry="1" fill="url(#gcyan)"/>
<rect x="106.40" y="337.50" width="16.50" height="3.00" rx="1.4" ry="1" fill="url(#shade)"/>
<rect x="106.70" y="335.80" width="15.90" height="1.6" rx="1.4" ry="0.8" fill="#ffffff" fill-opacity="0.22"/>
<rect x="107.00" y="340.30" width="16.30" height="1.2" rx="1.4" ry="0.6" fill="#808080" fill-opacity="0.35"/>
<rect x="125.20" y="339.80" width="16.50" height="6.90" rx="1.4" ry="1" fill="url(#gcyan)"/>
<rect x="125.20" y="343.70" width="16.50" height="3.00" rx="1.4" ry="1" fill="url(#shade)"/>
<rect x="144.20" y="339.80" width="16.30" height="50.20" rx="1.4" ry="1" fill="url(#gcyan)"/>
<rect x="144.20" y="387.00" width="16.30" height="3.00" rx="1.4" ry="1" fill="url(#shade)"/>
<rect x="163.00" y="339.80" width="16.30" height="47.90" rx="1.4" ry="1" fill="url(#gcyan)"/>
<rect x="163.00" y="384.70" width="16.30" height="3.00" rx="1.4" ry="1" fill="url(#shade)"/>
<text x="56.40" y="320.50" font-size="9.2" fill="#383838" text-anchor="middle" textLength="23.90" lengthAdjust="spacingAndGlyphs" stroke="#383838" stroke-width="0.25" stroke-linejoin="round">0.09%</text>
<text x="75.85" y="361.20" font-size="9.2" fill="#383838" text-anchor="middle" textLength="26.70" lengthAdjust="spacingAndGlyphs" stroke="#383838" stroke-width="0.25" stroke-linejoin="round">-0.06%</text>
<text x="95.30" y="409.30" font-size="9.2" fill="#383838" text-anchor="middle" textLength="26.70" lengthAdjust="spacingAndGlyphs" stroke="#383838" stroke-width="0.25" stroke-linejoin="round">-0.37%</text>
<text x="114.50" y="330.30" font-size="9.2" fill="#383838" text-anchor="middle" textLength="23.90" lengthAdjust="spacingAndGlyphs" stroke="#383838" stroke-width="0.25" stroke-linejoin="round">0.03%</text>
<text x="133.80" y="359.10" font-size="9.2" fill="#383838" text-anchor="middle" textLength="26.70" lengthAdjust="spacingAndGlyphs" stroke="#383838" stroke-width="0.25" stroke-linejoin="round">-0.04%</text>
<text x="153.15" y="401.90" font-size="9.2" fill="#383838" text-anchor="middle" textLength="26.70" lengthAdjust="spacingAndGlyphs" stroke="#383838" stroke-width="0.25" stroke-linejoin="round">-0.33%</text>
<text x="172.85" y="399.90" font-size="9.2" fill="#383838" text-anchor="middle" textLength="26.70" lengthAdjust="spacingAndGlyphs" stroke="#383838" stroke-width="0.25" stroke-linejoin="round">-0.31%</text>
<rect x="203.5" y="296.5" width="186.0" height="123.0" fill="#f2f2f2" stroke="#000000" stroke-width="1"/>
<rect x="204.5" y="297.5" width="184.0" height="121.0" fill="none" stroke="#fbfbfb" stroke-width="1"/>
<text x="216.90" y="309.30" font-size="9.2" fill="#505050" font-weight="bold" textLength="79.90" lengthAdjust="spacingAndGlyphs" stroke="#505050" stroke-width="0.3" stroke-linejoin="round">Daily % Change CAD</text>
<rect x="236.0" y="325.90" width="143.0" height="1" fill="#e3e3e3"/>
<rect x="236.0" y="341.00" width="143.0" height="1" fill="#e3e3e3"/>
<rect x="236.0" y="356.20" width="143.0" height="1" fill="#e3e3e3"/>
<rect x="236.0" y="371.50" width="143.0" height="1" fill="#e3e3e3"/>
<rect x="236.0" y="386.90" width="143.0" height="1" fill="#e3e3e3"/>
<rect x="236.0" y="402.30" width="143.0" height="1" fill="#e3e3e3"/>
<text x="229.30" y="328.60" font-size="7.2" fill="#545454" text-anchor="end" textLength="19.30" lengthAdjust="spacingAndGlyphs" stroke="#545454" stroke-width="0.12" stroke-linejoin="round">0.10%</text>
<text x="229.30" y="344.18" font-size="7.2" fill="#545454" text-anchor="end" textLength="19.30" lengthAdjust="spacingAndGlyphs" stroke="#545454" stroke-width="0.12" stroke-linejoin="round">0.00%</text>
<text x="229.30" y="359.76" font-size="7.2" fill="#545454" text-anchor="end" textLength="22.20" lengthAdjust="spacingAndGlyphs" stroke="#545454" stroke-width="0.12" stroke-linejoin="round">-0.10%</text>
<text x="229.30" y="375.34" font-size="7.2" fill="#545454" text-anchor="end" textLength="22.20" lengthAdjust="spacingAndGlyphs" stroke="#545454" stroke-width="0.12" stroke-linejoin="round">-0.20%</text>
<text x="229.30" y="390.92" font-size="7.2" fill="#545454" text-anchor="end" textLength="22.20" lengthAdjust="spacingAndGlyphs" stroke="#545454" stroke-width="0.12" stroke-linejoin="round">-0.30%</text>
<text x="229.30" y="406.50" font-size="7.2" fill="#545454" text-anchor="end" textLength="22.20" lengthAdjust="spacingAndGlyphs" stroke="#545454" stroke-width="0.12" stroke-linejoin="round">-0.40%</text>
<text x="246.40" y="415.20" font-size="6.8" fill="#505050" text-anchor="middle" textLength="12.80" lengthAdjust="spacingAndGlyphs" stroke="#505050" stroke-width="0.12" stroke-linejoin="round">USD</text>
<text x="266.65" y="415.20" font-size="6.8" fill="#505050" text-anchor="middle" textLength="12.20" lengthAdjust="spacingAndGlyphs" stroke="#505050" stroke-width="0.12" stroke-linejoin="round">EUR</text>
<text x="286.90" y="415.20" font-size="6.8" fill="#505050" text-anchor="middle" textLength="12.60" lengthAdjust="spacingAndGlyphs" stroke="#505050" stroke-width="0.12" stroke-linejoin="round">GBP</text>
<text x="307.15" y="415.20" font-size="6.8" fill="#505050" text-anchor="middle" textLength="11.00" lengthAdjust="spacingAndGlyphs" stroke="#505050" stroke-width="0.12" stroke-linejoin="round">JPY</text>
<text x="327.40" y="415.20" font-size="6.8" fill="#505050" text-anchor="middle" textLength="12.20" lengthAdjust="spacingAndGlyphs" stroke="#505050" stroke-width="0.12" stroke-linejoin="round">CHF</text>
<text x="347.65" y="415.20" font-size="6.8" fill="#505050" text-anchor="middle" textLength="13.00" lengthAdjust="spacingAndGlyphs" stroke="#505050" stroke-width="0.12" stroke-linejoin="round">AUD</text>
<text x="367.90" y="415.20" font-size="6.8" fill="#505050" text-anchor="middle" textLength="12.60" lengthAdjust="spacingAndGlyphs" stroke="#505050" stroke-width="0.12" stroke-linejoin="round">NZD</text>
<rect x="239.90" y="326.40" width="17.20" height="15.40" rx="1.4" ry="1" fill="url(#gblue)"/>
<rect x="239.90" y="338.80" width="17.20" height="3.00" rx="1.4" ry="1" fill="url(#shade)"/>
<rect x="240.20" y="326.40" width="16.60" height="1.6" rx="1.4" ry="0.8" fill="#ffffff" fill-opacity="0.22"/>
<rect x="240.50" y="341.60" width="17.00" height="1.2" rx="1.4" ry="0.6" fill="#808080" fill-opacity="0.35"/>
<rect x="259.60" y="341.20" width="16.90" height="6.80" rx="1.4" ry="1" fill="url(#gblue)"/>
<rect x="259.60" y="345.00" width="16.90" height="3.00" rx="1.4" ry="1" fill="url(#shade)"/>
<rect x="279.20" y="341.20" width="16.90" height="50.60" rx="1.4" ry="1" fill="url(#gblue)"/>
<rect x="279.20" y="388.80" width="16.90" height="3.00" rx="1.4" ry="1" fill="url(#shade)"/>
<rect x="298.80" y="334.20" width="17.20" height="7.60" rx="1.4" ry="1" fill="url(#gblue)"/>
<rect x="298.80" y="338.80" width="17.20" height="3.00" rx="1.4" ry="1" fill="url(#shade)"/>
<rect x="299.10" y="334.20" width="16.60" height="1.6" rx="1.4" ry="0.8" fill="#ffffff" fill-opacity="0.22"/>
<rect x="299.40" y="341.60" width="17.00" height="1.2" rx="1.4" ry="0.6" fill="#808080" fill-opacity="0.35"/>
<rect x="318.70" y="334.80" width="17.10" height="7.00" rx="1.4" ry="1" fill="url(#gblue)"/>
<rect x="318.70" y="338.80" width="17.10" height="3.00" rx="1.4" ry="1" fill="url(#shade)"/>
<rect x="319.00" y="334.80" width="16.50" height="1.6" rx="1.4" ry="0.8" fill="#ffffff" fill-opacity="0.22"/>
<rect x="319.30" y="341.60" width="16.90" height="1.2" rx="1.4" ry="0.6" fill="#808080" fill-opacity="0.35"/>
<rect x="338.50" y="341.20" width="17.00" height="49.00" rx="1.4" ry="1" fill="url(#gblue)"/>
<rect x="338.50" y="387.20" width="17.00" height="3.00" rx="1.4" ry="1" fill="url(#shade)"/>
<rect x="358.00" y="341.20" width="17.10" height="46.20" rx="1.4" ry="1" fill="url(#gblue)"/>
<rect x="358.00" y="384.40" width="17.10" height="3.00" rx="1.4" ry="1" fill="url(#shade)"/>
<text x="247.15" y="320.50" font-size="9.2" fill="#383838" text-anchor="middle" textLength="23.90" lengthAdjust="spacingAndGlyphs" stroke="#383838" stroke-width="0.25" stroke-linejoin="round">0.09%</text>
<text x="267.20" y="359.80" font-size="9.2" fill="#383838" text-anchor="middle" textLength="26.70" lengthAdjust="spacingAndGlyphs" stroke="#383838" stroke-width="0.25" stroke-linejoin="round">-0.04%</text>
<text x="287.35" y="404.50" font-size="9.2" fill="#383838" text-anchor="middle" textLength="26.70" lengthAdjust="spacingAndGlyphs" stroke="#383838" stroke-width="0.25" stroke-linejoin="round">-0.33%</text>
<text x="307.30" y="328.20" font-size="9.2" fill="#383838" text-anchor="middle" textLength="23.90" lengthAdjust="spacingAndGlyphs" stroke="#383838" stroke-width="0.25" stroke-linejoin="round">0.05%</text>
<text x="327.60" y="328.80" font-size="9.2" fill="#383838" text-anchor="middle" textLength="23.90" lengthAdjust="spacingAndGlyphs" stroke="#383838" stroke-width="0.25" stroke-linejoin="round">0.04%</text>
<text x="347.65" y="403.00" font-size="9.2" fill="#383838" text-anchor="middle" textLength="26.70" lengthAdjust="spacingAndGlyphs" stroke="#383838" stroke-width="0.25" stroke-linejoin="round">-0.32%</text>
<text x="368.35" y="399.90" font-size="9.2" fill="#383838" text-anchor="middle" textLength="26.70" lengthAdjust="spacingAndGlyphs" stroke="#383838" stroke-width="0.25" stroke-linejoin="round">-0.30%</text>
<rect x="400.5" y="297.5" width="186.0" height="123.0" fill="#f2f2f2" stroke="#000000" stroke-width="1"/>
<rect x="401.5" y="298.5" width="184.0" height="121.0" fill="none" stroke="#fbfbfb" stroke-width="1"/>
<text x="413.80" y="309.60" font-size="9.2" fill="#505050" font-weight="bold" textLength="80.20" lengthAdjust="spacingAndGlyphs" stroke="#505050" stroke-width="0.3" stroke-linejoin="round">Daily % Change AUD</text>
<rect x="436.0" y="326.40" width="141.0" height="1" fill="#e3e3e3"/>
<rect x="436.0" y="338.50" width="141.0" height="1" fill="#e3e3e3"/>
<rect x="436.0" y="350.60" width="141.0" height="1" fill="#e3e3e3"/>
<rect x="436.0" y="362.50" width="141.0" height="1" fill="#e3e3e3"/>
<rect x="436.0" y="374.40" width="141.0" height="1" fill="#e3e3e3"/>
<rect x="436.0" y="387.20" width="141.0" height="1" fill="#e3e3e3"/>
<rect x="436.0" y="399.10" width="141.0" height="1" fill="#e3e3e3"/>
<text x="429.70" y="328.60" font-size="7.2" fill="#545454" text-anchor="end" textLength="19.30" lengthAdjust="spacingAndGlyphs" stroke="#545454" stroke-width="0.12" stroke-linejoin="round">0.50%</text>
<text x="429.70" y="341.15" font-size="7.2" fill="#545454" text-anchor="end" textLength="19.30" lengthAdjust="spacingAndGlyphs" stroke="#545454" stroke-width="0.12" stroke-linejoin="round">0.40%</text>
<text x="429.70" y="353.70" font-size="7.2" fill="#545454" text-anchor="end" textLength="19.30" lengthAdjust="spacingAndGlyphs" stroke="#545454" stroke-width="0.12" stroke-linejoin="round">0.30%</text>
<text x="429.70" y="366.25" font-size="7.2" fill="#545454" text-anchor="end" textLength="19.30" lengthAdjust="spacingAndGlyphs" stroke="#545454" stroke-width="0.12" stroke-linejoin="round">0.20%</text>
<text x="429.70" y="378.80" font-size="7.2" fill="#545454" text-anchor="end" textLength="19.30" lengthAdjust="spacingAndGlyphs" stroke="#545454" stroke-width="0.12" stroke-linejoin="round">0.10%</text>
<text x="429.70" y="391.35" font-size="7.2" fill="#545454" text-anchor="end" textLength="19.30" lengthAdjust="spacingAndGlyphs" stroke="#545454" stroke-width="0.12" stroke-linejoin="round">0.00%</text>
<text x="429.70" y="403.90" font-size="7.2" fill="#545454" text-anchor="end" textLength="22.20" lengthAdjust="spacingAndGlyphs" stroke="#545454" stroke-width="0.12" stroke-linejoin="round">-0.10%</text>
<text x="446.90" y="412.20" font-size="6.8" fill="#505050" text-anchor="middle" textLength="12.80" lengthAdjust="spacingAndGlyphs" stroke="#505050" stroke-width="0.12" stroke-linejoin="round">USD</text>
<text x="466.67" y="412.20" font-size="6.8" fill="#505050" text-anchor="middle" textLength="12.20" lengthAdjust="spacingAndGlyphs" stroke="#505050" stroke-width="0.12" stroke-linejoin="round">EUR</text>
<text x="486.43" y="412.20" font-size="6.8" fill="#505050" text-anchor="middle" textLength="12.60" lengthAdjust="spacingAndGlyphs" stroke="#505050" stroke-width="0.12" stroke-linejoin="round">GBP</text>
<text x="506.20" y="412.20" font-size="6.8" fill="#505050" text-anchor="middle" textLength="11.00" lengthAdjust="spacingAndGlyphs" stroke="#505050" stroke-width="0.12" stroke-linejoin="round">JPY</text>
<text x="525.97" y="412.20" font-size="6.8" fill="#505050" text-anchor="middle" textLength="12.20" lengthAdjust="spacingAndGlyphs" stroke="#505050" stroke-width="0.12" stroke-linejoin="round">CHF</text>
<text x="545.73" y="412.20" font-size="6.8" fill="#505050" text-anchor="middle" textLength="13.00" lengthAdjust="spacingAndGlyphs" stroke="#505050" stroke-width="0.12" stroke-linejoin="round">CAD</text>
<text x="565.50" y="412.20" font-size="6.8" fill="#505050" text-anchor="middle" textLength="12.60" lengthAdjust="spacingAndGlyphs" stroke="#505050" stroke-width="0.12" stroke-linejoin="round">NZD</text>
<rect x="441.10" y="336.30" width="16.10" height="51.60" rx="1.4" ry="1" fill="url(#ggreen)"/>
<rect x="441.10" y="384.90" width="16.10" height="3.00" rx="1.4" ry="1" fill="url(#shade)"/>
<rect x="441.40" y="336.30" width="15.50" height="1.6" rx="1.4" ry="0.8" fill="#ffffff" fill-opacity="0.22"/>
<rect x="441.70" y="387.70" width="15.90" height="1.2" rx="1.4" ry="0.6" fill="#808080" fill-opacity="0.35"/>
<rect x="460.30" y="359.20" width="15.90" height="28.70" rx="1.4" ry="1" fill="url(#ggreen)"/>
<rect x="460.30" y="384.90" width="15.90" height="3.00" rx="1.4" ry="1" fill="url(#shade)"/>
<rect x="460.60" y="359.20" width="15.30" height="1.6" rx="1.4" ry="0.8" fill="#ffffff" fill-opacity="0.22"/>
<rect x="460.90" y="387.70" width="15.70" height="1.2" rx="1.4" ry="0.6" fill="#808080" fill-opacity="0.35"/>
<rect x="479.30" y="386.40" width="16.10" height="10.00" rx="1.4" ry="1" fill="url(#ggreen)"/>
<rect x="479.30" y="393.40" width="16.10" height="3.00" rx="1.4" ry="1" fill="url(#shade)"/>
<rect x="498.50" y="348.00" width="16.10" height="39.90" rx="1.4" ry="1" fill="url(#ggreen)"/>
<rect x="498.50" y="384.90" width="16.10" height="3.00" rx="1.4" ry="1" fill="url(#shade)"/>
<rect x="498.80" y="348.00" width="15.50" height="1.6" rx="1.4" ry="0.8" fill="#ffffff" fill-opacity="0.22"/>
<rect x="499.10" y="387.70" width="15.90" height="1.2" rx="1.4" ry="0.6" fill="#808080" fill-opacity="0.35"/>
<rect x="517.70" y="347.30" width="16.10" height="40.60" rx="1.4" ry="1" fill="url(#ggreen)"/>
<rect x="517.70" y="384.90" width="16.10" height="3.00" rx="1.4" ry="1" fill="url(#shade)"/>
<rect x="518.00" y="347.30" width="15.50" height="1.6" rx="1.4" ry="0.8" fill="#ffffff" fill-opacity="0.22"/>
<rect x="518.30" y="387.70" width="15.90" height="1.2" rx="1.4" ry="0.6" fill="#808080" fill-opacity="0.35"/>
<rect x="537.00" y="348.80" width="15.80" height="39.10" rx="1.4" ry="1" fill="url(#ggreen)"/>
<rect x="537.00" y="384.90" width="15.80" height="3.00" rx="1.4" ry="1" fill="url(#shade)"/>
<rect x="537.30" y="348.80" width="15.20" height="1.6" rx="1.4" ry="0.8" fill="#ffffff" fill-opacity="0.22"/>
<rect x="537.60" y="387.70" width="15.60" height="1.2" rx="1.4" ry="0.6" fill="#808080" fill-opacity="0.35"/>
<rect x="556.00" y="378.00" width="16.10" height="9.90" rx="1.4" ry="1" fill="url(#ggreen)"/>
<rect x="556.00" y="384.90" width="16.10" height="3.00" rx="1.4" ry="1" fill="url(#shade)"/>
<rect x="556.30" y="378.00" width="15.50" height="1.6" rx="1.4" ry="0.8" fill="#ffffff" fill-opacity="0.22"/>
<rect x="556.60" y="387.70" width="15.90" height="1.2" rx="1.4" ry="0.6" fill="#808080" fill-opacity="0.35"/>
<text x="447.75" y="329.90" font-size="9.2" fill="#383838" text-anchor="middle" textLength="23.90" lengthAdjust="spacingAndGlyphs" stroke="#383838" stroke-width="0.25" stroke-linejoin="round">0.42%</text>
<text x="467.30" y="352.90" font-size="9.2" fill="#383838" text-anchor="middle" textLength="23.90" lengthAdjust="spacingAndGlyphs" stroke="#383838" stroke-width="0.25" stroke-linejoin="round">0.23%</text>
<text x="487.20" y="408.60" font-size="9.2" fill="#383838" text-anchor="middle" textLength="26.70" lengthAdjust="spacingAndGlyphs" stroke="#383838" stroke-width="0.25" stroke-linejoin="round">-0.07%</text>
<text x="506.50" y="342.00" font-size="9.2" fill="#383838" text-anchor="middle" textLength="23.90" lengthAdjust="spacingAndGlyphs" stroke="#383838" stroke-width="0.25" stroke-linejoin="round">0.32%</text>
<text x="526.30" y="341.00" font-size="9.2" fill="#383838" text-anchor="middle" textLength="23.90" lengthAdjust="spacingAndGlyphs" stroke="#383838" stroke-width="0.25" stroke-linejoin="round">0.33%</text>
<text x="545.80" y="342.00" font-size="9.2" fill="#383838" text-anchor="middle" textLength="23.90" lengthAdjust="spacingAndGlyphs" stroke="#383838" stroke-width="0.25" stroke-linejoin="round">0.32%</text>
<text x="565.50" y="372.10" font-size="9.2" fill="#383838" text-anchor="middle" textLength="23.90" lengthAdjust="spacingAndGlyphs" stroke="#383838" stroke-width="0.25" stroke-linejoin="round">0.08%</text>
<rect x="596.5" y="296.5" width="185.0" height="125.0" fill="#f2f2f2" stroke="#000000" stroke-width="1"/>
<rect x="597.5" y="297.5" width="183.0" height="123.0" fill="none" stroke="#fbfbfb" stroke-width="1"/>
<text x="609.70" y="309.30" font-size="9.2" fill="#505050" font-weight="bold" textLength="79.60" lengthAdjust="spacingAndGlyphs" stroke="#505050" stroke-width="0.3" stroke-linejoin="round">Daily % Change NZD</text>
<rect x="633.0" y="326.40" width="138.0" height="1" fill="#e3e3e3"/>
<rect x="633.0" y="338.50" width="138.0" height="1" fill="#e3e3e3"/>
<rect x="633.0" y="350.60" width="138.0" height="1" fill="#e3e3e3"/>
<rect x="633.0" y="362.90" width="138.0" height="1" fill="#e3e3e3"/>
<rect x="633.0" y="375.50" width="138.0" height="1" fill="#e3e3e3"/>
<rect x="633.0" y="387.20" width="138.0" height="1" fill="#e3e3e3"/>
<rect x="633.0" y="399.50" width="138.0" height="1" fill="#e3e3e3"/>
<text x="626.00" y="327.60" font-size="7.2" fill="#545454" text-anchor="end" textLength="19.30" lengthAdjust="spacingAndGlyphs" stroke="#545454" stroke-width="0.12" stroke-linejoin="round">0.40%</text>
<text x="626.00" y="340.32" font-size="7.2" fill="#545454" text-anchor="end" textLength="19.30" lengthAdjust="spacingAndGlyphs" stroke="#545454" stroke-width="0.12" stroke-linejoin="round">0.30%</text>
<text x="626.00" y="353.03" font-size="7.2" fill="#545454" text-anchor="end" textLength="19.30" lengthAdjust="spacingAndGlyphs" stroke="#545454" stroke-width="0.12" stroke-linejoin="round">0.20%</text>
<text x="626.00" y="365.75" font-size="7.2" fill="#545454" text-anchor="end" textLength="19.30" lengthAdjust="spacingAndGlyphs" stroke="#545454" stroke-width="0.12" stroke-linejoin="round">0.10%</text>
<text x="626.00" y="378.47" font-size="7.2" fill="#545454" text-anchor="end" textLength="19.30" lengthAdjust="spacingAndGlyphs" stroke="#545454" stroke-width="0.12" stroke-linejoin="round">0.00%</text>
<text x="626.00" y="391.18" font-size="7.2" fill="#545454" text-anchor="end" textLength="22.20" lengthAdjust="spacingAndGlyphs" stroke="#545454" stroke-width="0.12" stroke-linejoin="round">-0.10%</text>
<text x="626.00" y="403.90" font-size="7.2" fill="#545454" text-anchor="end" textLength="22.20" lengthAdjust="spacingAndGlyphs" stroke="#545454" stroke-width="0.12" stroke-linejoin="round">-0.20%</text>
<text x="642.80" y="412.90" font-size="6.8" fill="#505050" text-anchor="middle" textLength="12.80" lengthAdjust="spacingAndGlyphs" stroke="#505050" stroke-width="0.12" stroke-linejoin="round">USD</text>
<text x="662.40" y="412.90" font-size="6.8" fill="#505050" text-anchor="middle" textLength="12.20" lengthAdjust="spacingAndGlyphs" stroke="#505050" stroke-width="0.12" stroke-linejoin="round">EUR</text>
<text x="682.00" y="412.90" font-size="6.8" fill="#505050" text-anchor="middle" textLength="12.60" lengthAdjust="spacingAndGlyphs" stroke="#505050" stroke-width="0.12" stroke-linejoin="round">GBP</text>
<text x="701.60" y="412.90" font-size="6.8" fill="#505050" text-anchor="middle" textLength="11.00" lengthAdjust="spacingAndGlyphs" stroke="#505050" stroke-width="0.12" stroke-linejoin="round">JPY</text>
<text x="721.20" y="412.90" font-size="6.8" fill="#505050" text-anchor="middle" textLength="12.20" lengthAdjust="spacingAndGlyphs" stroke="#505050" stroke-width="0.12" stroke-linejoin="round">CHF</text>
<text x="740.80" y="412.90" font-size="6.8" fill="#505050" text-anchor="middle" textLength="13.00" lengthAdjust="spacingAndGlyphs" stroke="#505050" stroke-width="0.12" stroke-linejoin="round">CAD</text>
<text x="760.40" y="412.90" font-size="6.8" fill="#505050" text-anchor="middle" textLength="13.00" lengthAdjust="spacingAndGlyphs" stroke="#505050" stroke-width="0.12" stroke-linejoin="round">AUD</text>
<rect x="636.80" y="326.90" width="16.10" height="49.40" rx="1.4" ry="1" fill="url(#glgreen)"/>
<rect x="636.80" y="373.30" width="16.10" height="3.00" rx="1.4" ry="1" fill="url(#shade)"/>
<rect x="637.10" y="326.90" width="15.50" height="1.6" rx="1.4" ry="0.8" fill="#ffffff" fill-opacity="0.22"/>
<rect x="637.40" y="376.10" width="15.90" height="1.2" rx="1.4" ry="0.6" fill="#808080" fill-opacity="0.35"/>
<rect x="655.80" y="351.90" width="16.10" height="24.40" rx="1.4" ry="1" fill="url(#glgreen)"/>
<rect x="655.80" y="373.30" width="16.10" height="3.00" rx="1.4" ry="1" fill="url(#shade)"/>
<rect x="656.10" y="351.90" width="15.50" height="1.6" rx="1.4" ry="0.8" fill="#ffffff" fill-opacity="0.22"/>
<rect x="656.40" y="376.10" width="15.90" height="1.2" rx="1.4" ry="0.6" fill="#808080" fill-opacity="0.35"/>
<rect x="674.80" y="375.90" width="16.10" height="14.30" rx="1.4" ry="1" fill="url(#glgreen)"/>
<rect x="674.80" y="387.20" width="16.10" height="3.00" rx="1.4" ry="1" fill="url(#shade)"/>
<rect x="693.80" y="338.40" width="16.10" height="37.90" rx="1.4" ry="1" fill="url(#glgreen)"/>
<rect x="693.80" y="373.30" width="16.10" height="3.00" rx="1.4" ry="1" fill="url(#shade)"/>
<rect x="694.10" y="338.40" width="15.50" height="1.6" rx="1.4" ry="0.8" fill="#ffffff" fill-opacity="0.22"/>
<rect x="694.40" y="376.10" width="15.90" height="1.2" rx="1.4" ry="0.6" fill="#808080" fill-opacity="0.35"/>
<rect x="713.10" y="336.90" width="16.10" height="39.40" rx="1.4" ry="1" fill="url(#glgreen)"/>
<rect x="713.10" y="373.30" width="16.10" height="3.00" rx="1.4" ry="1" fill="url(#shade)"/>
<rect x="713.40" y="336.90" width="15.50" height="1.6" rx="1.4" ry="0.8" fill="#ffffff" fill-opacity="0.22"/>
<rect x="713.70" y="376.10" width="15.90" height="1.2" rx="1.4" ry="0.6" fill="#808080" fill-opacity="0.35"/>
<rect x="732.10" y="338.60" width="16.10" height="37.70" rx="1.4" ry="1" fill="url(#glgreen)"/>
<rect x="732.10" y="373.30" width="16.10" height="3.00" rx="1.4" ry="1" fill="url(#shade)"/>
<rect x="732.40" y="338.60" width="15.50" height="1.6" rx="1.4" ry="0.8" fill="#ffffff" fill-opacity="0.22"/>
<rect x="732.70" y="376.10" width="15.90" height="1.2" rx="1.4" ry="0.6" fill="#808080" fill-opacity="0.35"/>
<rect x="751.10" y="375.90" width="16.30" height="9.70" rx="1.4" ry="1" fill="url(#glgreen)"/>
<rect x="751.10" y="382.60" width="16.30" height="3.00" rx="1.4" ry="1" fill="url(#shade)"/>
<text x="643.20" y="319.90" font-size="8.6" fill="#383838" text-anchor="middle" textLength="22.30" lengthAdjust="spacingAndGlyphs" stroke="#383838" stroke-width="0.25" stroke-linejoin="round">0.39%</text>
<text x="663.05" y="344.90" font-size="8.6" fill="#383838" text-anchor="middle" textLength="22.30" lengthAdjust="spacingAndGlyphs" stroke="#383838" stroke-width="0.25" stroke-linejoin="round">0.19%</text>
<text x="682.55" y="400.90" font-size="8.6" fill="#383838" text-anchor="middle" textLength="24.90" lengthAdjust="spacingAndGlyphs" stroke="#383838" stroke-width="0.25" stroke-linejoin="round">-0.11%</text>
<text x="701.65" y="332.00" font-size="8.6" fill="#383838" text-anchor="middle" textLength="22.30" lengthAdjust="spacingAndGlyphs" stroke="#383838" stroke-width="0.25" stroke-linejoin="round">0.30%</text>
<text x="720.80" y="330.50" font-size="8.6" fill="#383838" text-anchor="middle" textLength="22.30" lengthAdjust="spacingAndGlyphs" stroke="#383838" stroke-width="0.25" stroke-linejoin="round">0.31%</text>
<text x="740.35" y="332.00" font-size="8.6" fill="#383838" text-anchor="middle" textLength="22.30" lengthAdjust="spacingAndGlyphs" stroke="#383838" stroke-width="0.25" stroke-linejoin="round">0.30%</text>
<text x="759.95" y="397.10" font-size="8.6" fill="#383838" text-anchor="middle" textLength="24.90" lengthAdjust="spacingAndGlyphs" stroke="#383838" stroke-width="0.25" stroke-linejoin="round">-0.08%</text>
</svg>
</body>
</html>
